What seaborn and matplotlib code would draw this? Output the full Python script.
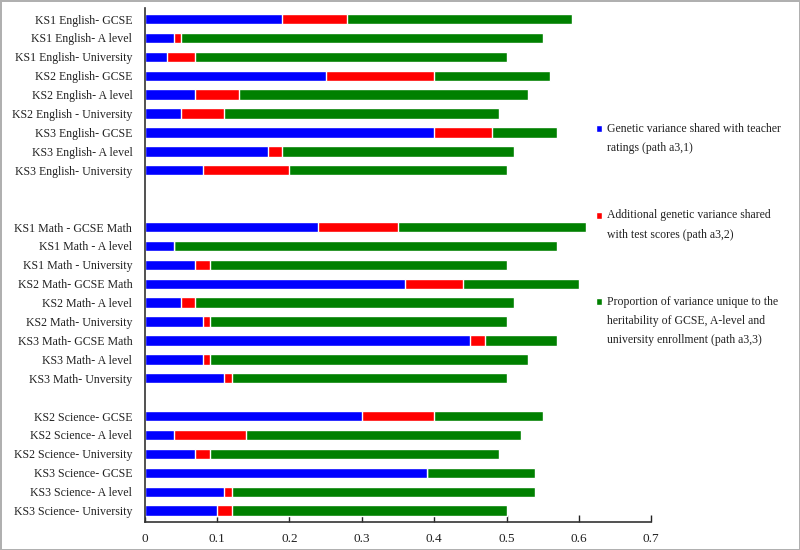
import pandas as pd
import matplotlib.pyplot as plt
import seaborn as sns
from matplotlib.patches import Patch

# categories (blank entries are the gaps between subject groups)
english = ['KS1 English- GCSE', 'KS1 English- A level', 'KS1 English- University',
           'KS2 English- GCSE', 'KS2 English- A level', 'KS2 English - University',
           'KS3 English- GCSE', 'KS3 English- A level', 'KS3 English- University']
math = ['KS1 Math - GCSE Math', 'KS1 Math - A level', 'KS1 Math - University',
        'KS2 Math- GCSE Math', 'KS2 Math- A level', 'KS2 Math- University',
        'KS3 Math- GCSE Math', 'KS3 Math- A level', 'KS3 Math- Unversity']
science = ['KS2 Science- GCSE', 'KS2 Science- A level', 'KS2 Science- University',
           'KS3 Science- GCSE', 'KS3 Science- A level', 'KS3 Science- University']
gaps = [' ', '  ', '   ']

# segment values (path a3,1 / a3,2 / a3,3)
blue = [0.19, 0.04, 0.03, 0.25, 0.07, 0.05, 0.40, 0.17, 0.08,
        0.24, 0.04, 0.07, 0.36, 0.05, 0.08, 0.45, 0.08, 0.11,
        0.30, 0.04, 0.07, 0.39, 0.11, 0.10]
red = [0.09, 0.01, 0.04, 0.15, 0.06, 0.06, 0.08, 0.02, 0.12,
       0.11, 0.00, 0.02, 0.08, 0.02, 0.01, 0.02, 0.01, 0.01,
       0.10, 0.10, 0.02, 0.00, 0.01, 0.02]
green = [0.31, 0.50, 0.43, 0.16, 0.40, 0.38, 0.09, 0.32, 0.30,
         0.26, 0.53, 0.41, 0.16, 0.44, 0.41, 0.10, 0.44, 0.38,
         0.15, 0.38, 0.40, 0.15, 0.42, 0.38]

legend_labels = ['Genetic variance shared with teacher\nratings (path a3,1)',
                 'Additional genetic variance shared\nwith test scores (path a3,2)',
                 'Proportion of variance unique to the\nheritability of GCSE, A-level and\nuniversity enrollment (path a3,3)']
colors = ['#0000ff', '#ff0000', '#008000']

data = pd.DataFrame({'cat': english + math + science, 'blue': blue, 'red': red, 'green': green})
data['c1'] = data['blue']
data['c2'] = data['blue'] + data['red']
data['c3'] = data['c2'] + data['green']
order = english + gaps[:2] + math + gaps[2:] + science

sns.set_style('ticks')
plt.rcParams['font.family'] = ['Liberation Serif', 'DejaVu Serif']

fig = plt.figure(figsize=(8, 5.5), dpi=100, linewidth=2, edgecolor='#b0b0b0')
ax = fig.add_axes([0.181, 0.051, 0.633, 0.935])

for col, c in zip(['c3', 'c2', 'c1'], colors[::-1]):
    sns.barplot(data=data, x=col, y='cat', order=order, orient='h', color=c,
                width=0.55, saturation=1, ax=ax, errorbar=None)

ax.set_xlim(0, 0.7)
ax.set_ylim(26.6, -0.6)
ax.set_xticks([0, 0.1, 0.2, 0.3, 0.4, 0.5, 0.6, 0.7])
ax.set_xticklabels(['0', '0.1', '0.2', '0.3', '0.4', '0.5', '0.6', '0.7'])
ax.set_xlabel('')
ax.set_ylabel('')
ax.tick_params(axis='x', direction='in', length=5, width=1, pad=8, labelsize=9.5, colors='#222222')
ax.tick_params(axis='y', length=0, pad=9, labelsize=8.6, colors='#222222')
sns.despine(ax=ax)
for s in ['left', 'bottom']:
    ax.spines[s].set_color('#333333')
    ax.spines[s].set_linewidth(1.2)

handles = [Patch(facecolor=c) for c in colors]
leg = fig.legend(handles, legend_labels, loc='upper left', bbox_to_anchor=(0.745, 0.777),
                 frameon=False, fontsize=8.5, handlelength=0.55, handleheight=0.55,
                 handletextpad=0.4, labelspacing=4.7, borderpad=0, borderaxespad=0)
line_pts = 14.4
for t, h in zip(leg.get_texts(), leg.legend_handles):
    t.set_linespacing(1.8)
    t.set_color('#222222')
    # put the square next to the first line of its label
    n = t.get_text().count('\n')
    h.set_y(h.get_y() + n * line_pts / 2)

fig.savefig('out.png', dpi=100, edgecolor=fig.get_edgecolor())
